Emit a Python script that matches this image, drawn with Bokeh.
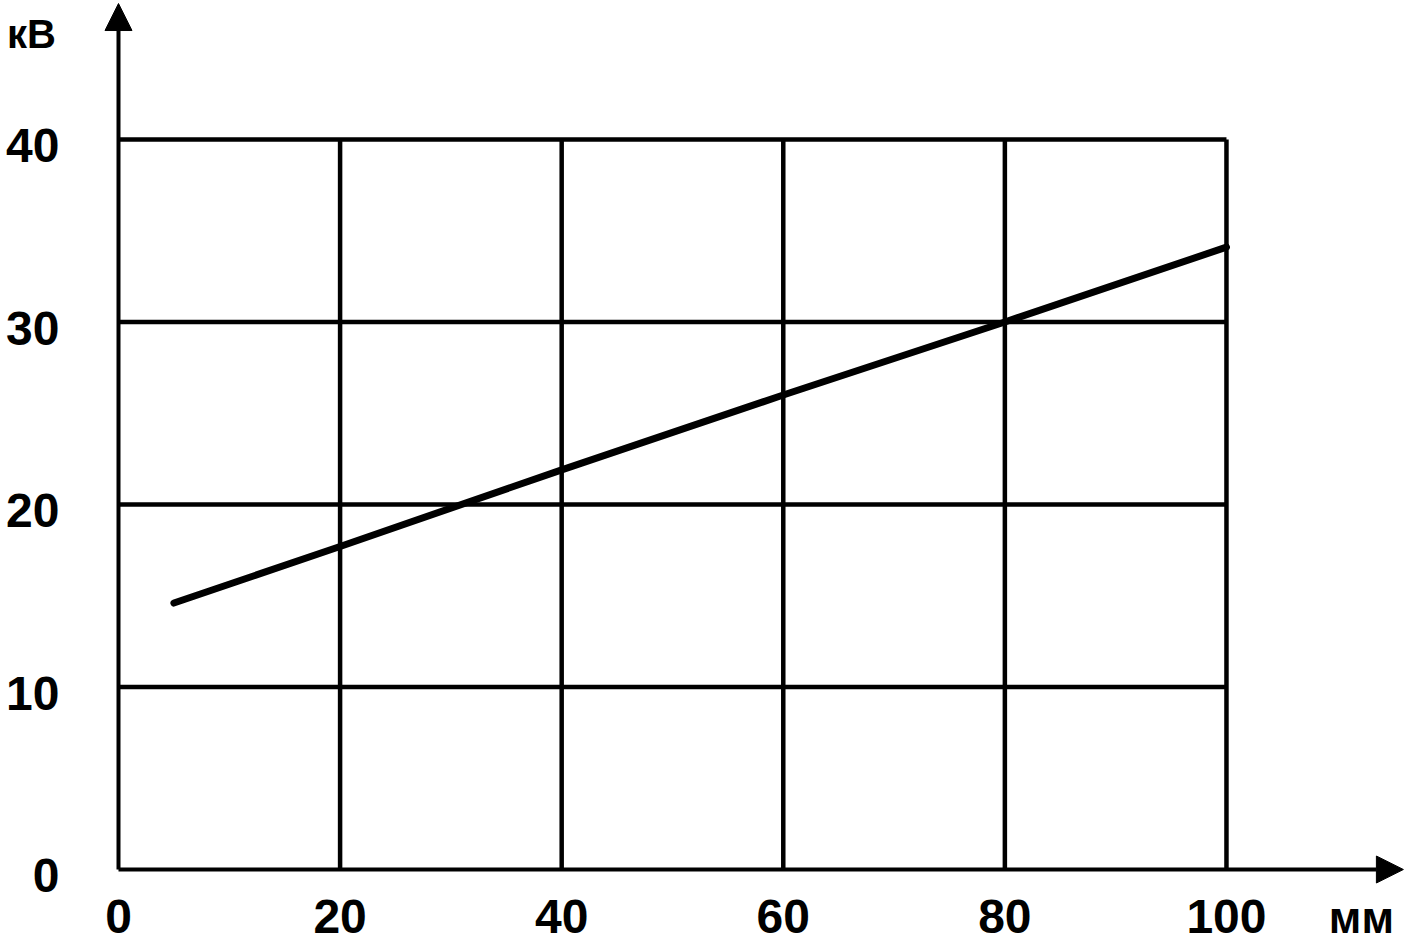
from bokeh.plotting import figure
from bokeh.models import Range1d, FixedTicker, Arrow, NormalHead, Label, LinearAxis
from bokeh.embed import file_html
from bokeh.resources import INLINE

# ---- data ----
distance_mm = [5, 20, 40, 60, 80, 100]
voltage_kv = [14.6, 17.7, 21.9, 26.0, 30.0, 34.1]
x_ticks = [0, 20, 40, 60, 80, 100]
y_ticks = [0, 10, 20, 30, 40]
x_unit = "мм"
y_unit = "кВ"

FONT = "Liberation Sans"

X0, X1 = -10.650, 116.43
Y0, Y1 = -4.219, 47.616
p = figure(width=1408, height=946, output_backend="svg", toolbar_location=None,
           x_range=Range1d(X0, X1), y_range=Range1d(Y0, Y1), x_axis_location=None,
           y_axis_location=None, min_border=0)
p.outline_line_color = None
p.background_fill_color = "white"
p.border_fill_color = "white"
p.xgrid.visible = False
p.ygrid.visible = False

# labels of the vertical axis sit slightly below their grid lines in the original
shift = 0.33
p.extra_y_ranges = {"labels": Range1d(Y0 + shift, Y1 + shift)}

xaxis = LinearAxis(fixed_location=0, ticker=FixedTicker(ticks=x_ticks))
yaxis = LinearAxis(fixed_location=0, ticker=FixedTicker(ticks=y_ticks), y_range_name="labels")
for ax in (xaxis, yaxis):
    ax.axis_line_color = None
    ax.major_tick_line_color = None
    ax.minor_tick_line_color = None
    ax.major_tick_out = 0
    ax.major_tick_in = 0
    ax.major_label_text_font = FONT
    ax.major_label_text_font_size = "48px"
    ax.major_label_text_font_style = "bold"
    ax.major_label_text_color = "black"
xaxis.major_label_standoff = 30
yaxis.major_label_standoff = 59
p.add_layout(xaxis, "below")
p.add_layout(yaxis, "left")

# grid lines limited to the data box
xmax_grid = x_ticks[-1]
ymax_grid = y_ticks[-1]
gx = [t for t in x_ticks if t > 0]
gy = [t for t in y_ticks if t > 0]
p.segment(x0=gx, y0=[0] * len(gx), x1=gx, y1=[ymax_grid] * len(gx),
          line_color="black", line_width=4.5)
p.segment(x0=[0] * len(gy), y0=gy, x1=[xmax_grid] * len(gy), y1=gy,
          line_color="black", line_width=4.5)

# data line
p.line(distance_mm, voltage_kv, line_color="black", line_width=7, line_cap="round")

# axes with arrows
p.add_layout(Arrow(end=NormalHead(size=27, fill_color="black", line_color="black", line_width=1),
                   x_start=0, y_start=0, x_end=115.97, y_end=0,
                   line_color="black", line_width=4))
p.add_layout(Arrow(end=NormalHead(size=27, fill_color="black", line_color="black", line_width=1),
                   x_start=0, y_start=0, x_end=0, y_end=47.45,
                   line_color="black", line_width=4))

p.add_layout(Label(x=112.18, y=-2.63, text=x_unit, text_font=FONT, text_font_size="44px",
                   text_font_style="bold", text_align="center", text_baseline="alphabetic",
                   text_color="black"))
p.add_layout(Label(x=-7.85, y=45.8, text=y_unit, text_font=FONT, text_font_size="40px",
                   text_font_style="bold", text_align="center", text_baseline="alphabetic",
                   text_color="black"))

open("out.html", "w").write(file_html(p, INLINE))
